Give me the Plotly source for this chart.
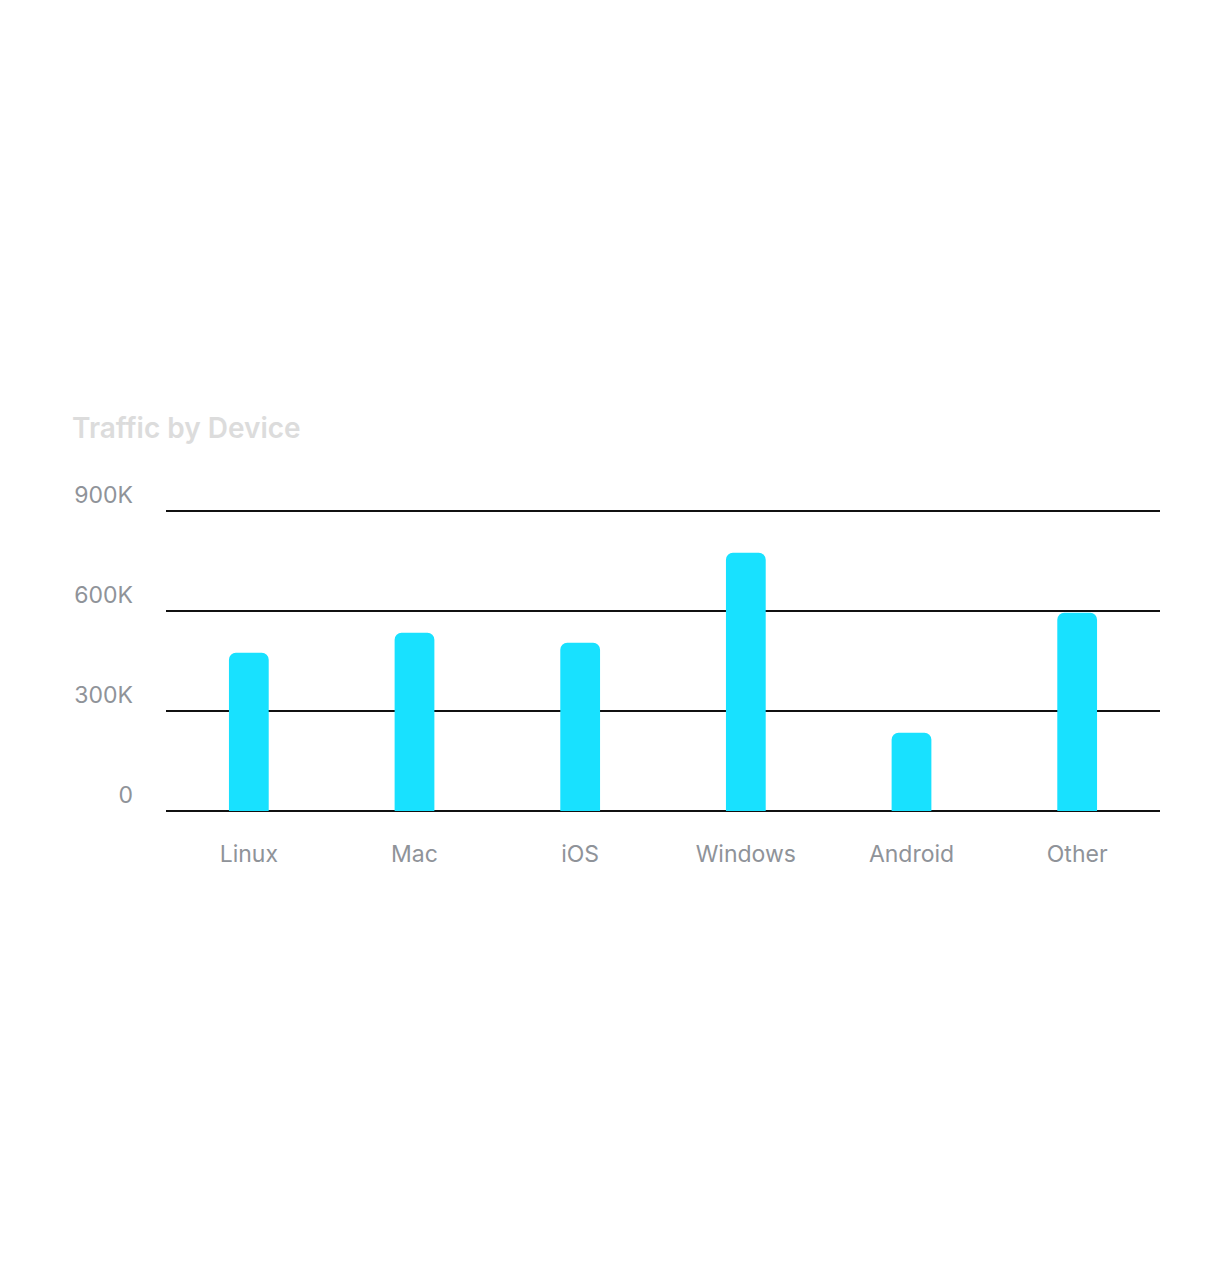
import plotly.graph_objects as go

# traffic per device
devices = ["Linux", "Mac", "iOS", "Windows", "Android", "Other"]
visits = [475000, 535000, 505000, 775000, 235000, 595000]

y_ticks = [0, 300000, 600000, 900000]
y_tick_text = ["0", "300K", "600K", "900K"]

fig = go.Figure()
fig.add_trace(go.Bar(
    x=devices,
    y=visits,
    marker=dict(color="#18E1FF", cornerradius=7, line=dict(width=0)),
    width=0.24,
    hoverinfo="x+y",
))

fig.update_layout(
    width=1232,
    height=1280,
    paper_bgcolor="white",
    plot_bgcolor="white",
    font=dict(family="Inter, Roboto, sans-serif", size=23, color="#8F9399"),
    title=dict(
        text="Traffic by Device",
        font=dict(family="Inter, Roboto, sans-serif", size=28, color="#DCDCDC", weight=600),
        xref="container", yref="container",
        x=64 / 1232, xanchor="left",
        y=1 - 420 / 1280, yanchor="middle",
    ),
    # page adds an 8px body margin, so plot box is shifted up/left by 8
    margin=dict(l=158, r=80, t=501, b=477),
    showlegend=False,
)
fig.update_xaxes(
    showgrid=False,
    showline=False,
    ticks="",
    ticklabelstandoff=27,
    tickfont=dict(size=23, color="#8F9399"),
)
fig.update_yaxes(
    range=[0, 906000],
    tickvals=y_ticks,
    ticktext=y_tick_text,
    showgrid=True,
    gridcolor="#111111",
    gridwidth=1.6,
    zeroline=True,
    zerolinecolor="#111111",
    zerolinewidth=1.6,
    showline=False,
    ticks="",
    ticklabelposition="outside top",
    ticklabelstandoff=32,
    tickfont=dict(size=23, color="#8F9399"),
)

fig.write_html("out.html")
